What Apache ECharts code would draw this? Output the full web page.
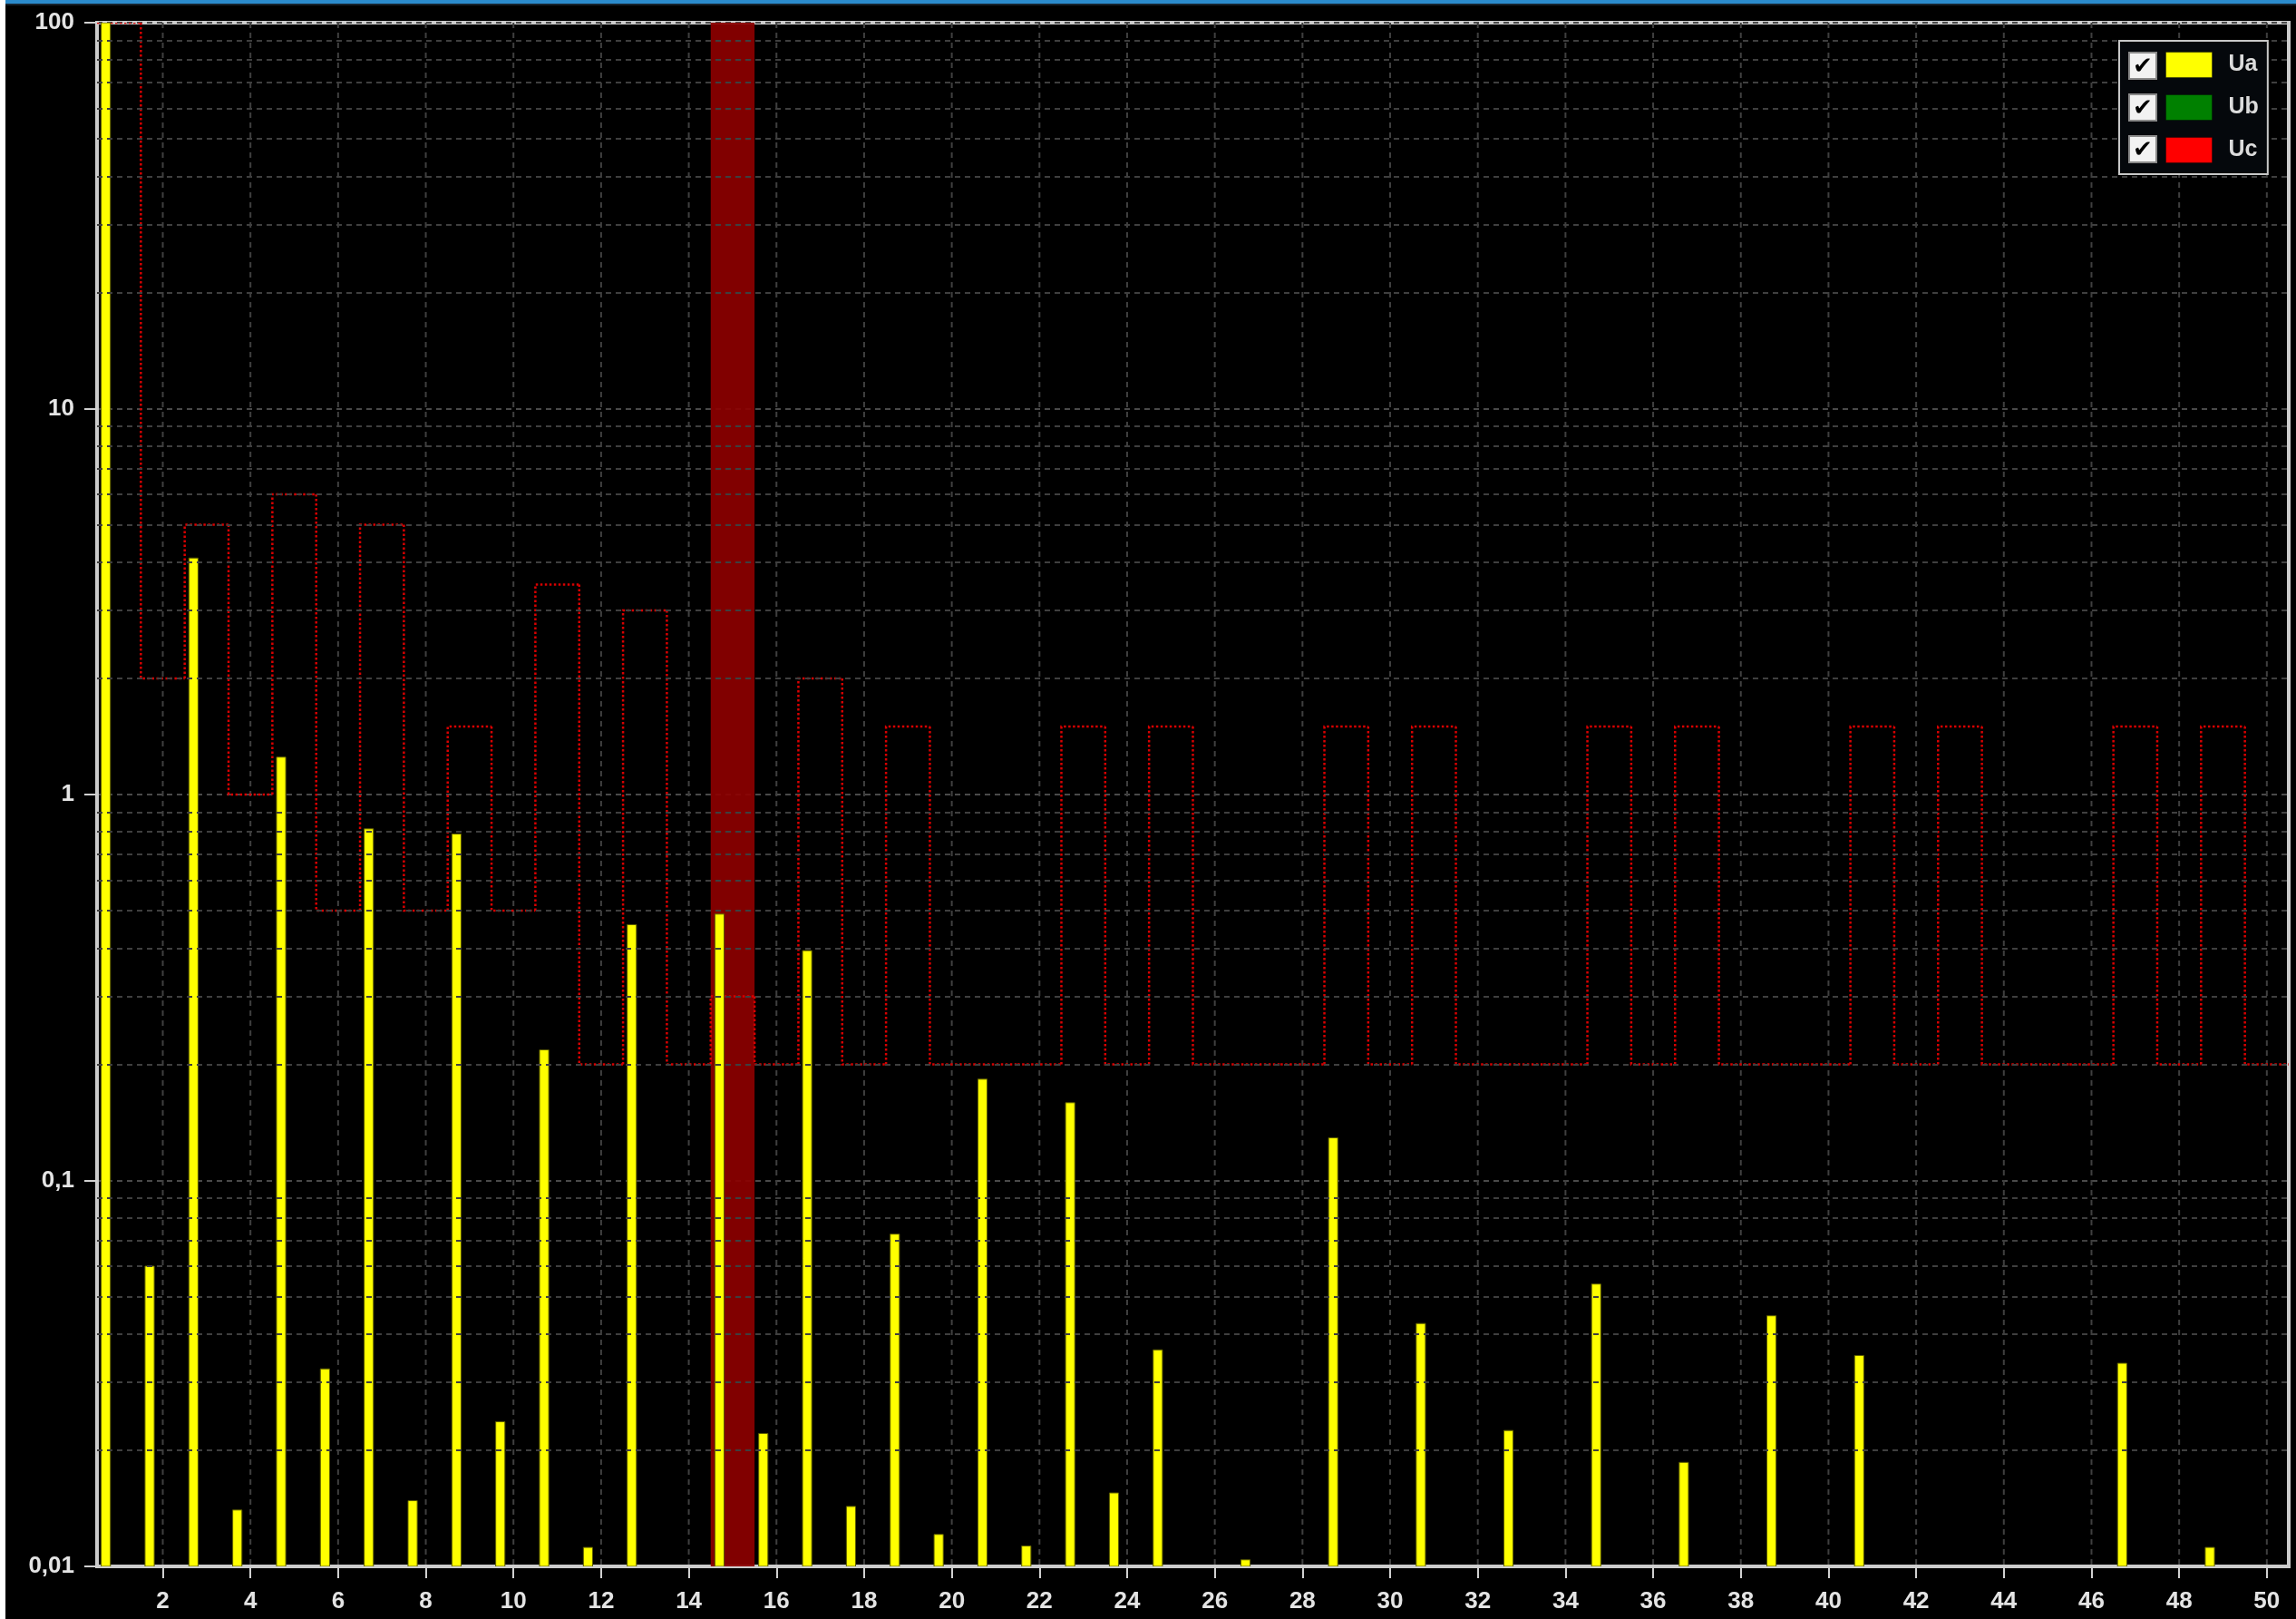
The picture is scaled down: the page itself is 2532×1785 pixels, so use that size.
<!DOCTYPE html>
<html>
<head>
<meta charset="utf-8">
<script src="https://cdn.jsdelivr.net/npm/echarts@6/dist/echarts.min.js"></script>
<style>
html,body{margin:0;padding:0;background:#000;}
#chart{width:2532px;height:1785px;}
</style>
</head>
<body>
<div id="chart"></div>
<script>
// Harmonic orders (categories)
const harmonics = ['1','2','3','4','5','6','7','8','9','10','11','12','13','14','15','16','17','18','19','20',
  '21','22','23','24','25','26','27','28','29','30','31','32','33','34','35','36','37','38','39','40',
  '41','42','43','44','45','46','47','48','49','50'];

// Ua harmonic levels (% of fundamental), null = below scale
const uaValues = [100, 0.06, 4.1, 0.014, 1.25, 0.0325, 0.815, 0.0148, 0.79, 0.0237,
  0.218, 0.0112, 0.46, null, 0.49, 0.0221, 0.394, 0.0143, 0.0726, 0.0121,
  0.183, 0.0113, 0.159, 0.0155, 0.0364, null, 0.0104, null, 0.129, null,
  0.0426, null, 0.0225, null, 0.0539, null, 0.0186, null, 0.0446, null,
  0.0352, null, null, null, null, null, 0.0336, null, 0.0112, null];
const ubValues = [];
const ucValues = [];

// Limit curve per harmonic (red dotted step line)
const limitValues = [100, 2, 5, 1, 6, 0.5, 5, 0.5, 1.5, 0.5,
  3.5, 0.2, 3, 0.2, 0.3, 0.2, 2, 0.2, 1.5, 0.2,
  0.2, 0.2, 1.5, 0.2, 1.5, 0.2, 0.2, 0.2, 1.5, 0.2,
  1.5, 0.2, 0.2, 0.2, 1.5, 0.2, 1.5, 0.2, 0.2, 0.2,
  1.5, 0.2, 1.5, 0.2, 0.2, 0.2, 1.5, 0.2, 1.5, 0.2];

// Highlighted harmonic
const highlightHarmonics = ['15'];

// Axis range / ticks
const yMin = 0.01, yMax = 100;
const yMinorDecades = [0.01, 0.1, 1, 10];
const xGridCategories = harmonics.filter((h) => Number(h) % 2 === 0);

const seriesNames = ['Ua', 'Ub', 'Uc'];
const seriesColors = ['#ffff00', '#008000', '#ff0000'];

const chart = echarts.init(document.getElementById('chart'), null, {renderer: 'canvas'});

function fmtY(v) {
  return String(Number(Number(v).toPrecision(6))).replace('.', ',');
}

function renderBar(params, api) {
  const v = api.value(1);
  if (v == null || isNaN(v)) return null;
  const top = api.coord([api.value(0), v]);
  const base = api.coord([api.value(0), yMin]);
  const w = api.size([1, 0])[0];
  return {
    type: 'rect',
    shape: {x: top[0] - 0.405 * w, y: top[1], width: 0.21 * w, height: base[1] - top[1]},
    style: {fill: api.visual('color'), stroke: '#5c5c00', lineWidth: 1}
  };
}

function renderLimit(params, api) {
  const i = params.dataIndex;
  const cur = api.coord([api.value(0), api.value(1)]);
  const w = api.size([1, 0])[0];
  const left = cur[0] - w / 2, right = cur[0] + w / 2;
  let pts;
  if (i > 0) {
    const prev = api.coord([api.value(0), limitValues[i - 1]]);
    pts = [[left, prev[1]], [left, cur[1]], [right, cur[1]]];
  } else {
    pts = [[left, cur[1]], [right, cur[1]]];
  }
  return {
    type: 'polyline',
    shape: {points: pts},
    style: {stroke: '#d80000', lineWidth: 2.5, lineDash: [2.5, 2.5], fill: null}
  };
}

function renderBand(params, api) {
  const c = api.coord([api.value(0), yMax]);
  const b = api.coord([api.value(0), yMin]);
  const w = api.size([1, 0])[0];
  return {
    type: 'rect',
    shape: {x: c[0] - w / 2, y: c[1], width: w, height: b[1] - c[1]},
    style: {fill: 'rgba(140,0,0,0.92)'}
  };
}

function renderVGrid(params, api) {
  const t = api.coord([api.value(0), yMax]);
  const b = api.coord([api.value(0), yMin]);
  return {
    type: 'line',
    shape: {x1: t[0], y1: t[1], x2: b[0], y2: b[1]},
    style: {stroke: '#3f3f3f', lineWidth: 2, lineDash: [6, 5]}
  };
}

const minorLines = [];
yMinorDecades.forEach((d) => {
  for (let k = 2; k <= 9; k++) minorLines.push({yAxis: Number((d * k).toPrecision(6))});
});

const gridLineStyle = {color: '#3f3f3f', width: 2, type: [6, 5]};

const option = {
  backgroundColor: '#000',
  animation: false,
  textStyle: {fontFamily: 'Liberation Sans, Arial, sans-serif'},
  grid: {
    left: 107, right: 8, top: 25, bottom: 58,
    show: true, borderColor: '#cccccc', borderWidth: 4, backgroundColor: '#000'
  },
  legend: {
    data: seriesNames.map((n, i) => ({name: n, icon: 'rect',
      itemStyle: {color: seriesColors[i], borderColor: 'rgba(0,0,0,0.35)', borderWidth: 1, borderType: 'solid', decal: 'none'}})),
    orient: 'vertical',
    left: 2337, top: 45,
    itemWidth: 51, itemHeight: 28, itemGap: 18,
    padding: [12, 10, 12, 51],
    backgroundColor: '#05080c',
    borderColor: '#c8c8c8', borderWidth: 2,
    z: 20,
    textStyle: {color: '#dcdcdc', fontSize: 25, fontWeight: 'bold', fontFamily: 'Liberation Sans', padding: [0, 0, 0, 13]}
  },
  xAxis: {
    type: 'category',
    data: harmonics,
    boundaryGap: true,
    axisLine: {show: true, lineStyle: {color: '#cccccc', width: 4}},
    axisTick: {show: true, alignWithLabel: true, interval: (i) => i % 2 === 1, length: 13,
      lineStyle: {color: '#d0d0d0', width: 2}},
    axisLabel: {interval: (i) => i % 2 === 1, color: '#e4e4e4', fontSize: 26, fontWeight: 'bold',
      fontFamily: 'Liberation Sans', margin: 26},
    splitLine: {show: false}
  },
  yAxis: {
    type: 'log',
    logBase: 10,
    min: yMin, max: yMax,
    axisLine: {show: true, lineStyle: {color: '#cccccc', width: 4}},
    axisTick: {show: true, length: 14, lineStyle: {color: '#d0d0d0', width: 2}},
    axisLabel: {color: '#e4e4e4', fontSize: 26, fontWeight: 'bold', fontFamily: 'Liberation Sans',
      margin: 25, formatter: fmtY},
    splitLine: {show: true, lineStyle: {color: '#4a4a4a', width: 2, type: [6, 5]}},
    minorTick: {show: false},
    minorSplitLine: {show: false}
  },
  graphic: [
    {type: 'rect', z: 100, shape: {x: 0, y: 0, width: 6, height: 1785}, style: {fill: '#ffffff'}},
    {type: 'rect', z: 100, shape: {x: 6, y: 0, width: 2526, height: 4}, style: {fill: '#2b8bcc'}},
    {type: 'rect', z: 100, shape: {x: 6, y: 4, width: 2526, height: 2}, style: {fill: '#16222c'}}
  ].concat(seriesNames.map((n, i) => ({
    type: 'rect', z: 100, x: 2348, y: 58 + i * 46,
    shape: {x: 0, y: 0, width: 30, height: 29},
    style: {fill: '#f2f2f2', stroke: '#8a8a8a', lineWidth: 2}
  }))).concat(seriesNames.map((n, i) => ({
    type: 'text', z: 101, x: 2363, y: 74 + i * 46,
    style: {text: '\u2714', fontSize: 26, fontFamily: 'DejaVu Sans', fill: '#000',
      align: 'center', verticalAlign: 'middle'}
  }))),
  series: [
    {
      name: 'grid-helper', type: 'line', data: [], silent: true, z: 1,
      markLine: {silent: true, symbol: 'none', label: {show: false}, animation: false,
        lineStyle: gridLineStyle, data: minorLines}
    },
    {
      name: 'vgrid', type: 'custom', silent: true, z: 1, clip: true,
      renderItem: renderVGrid,
      data: xGridCategories.map((c) => [harmonics.indexOf(c), yMax])
    },
    {
      name: 'highlight', type: 'custom', silent: true, z: 2, clip: true,
      renderItem: renderBand,
      data: highlightHarmonics.map((h) => [harmonics.indexOf(h), yMax])
    },
    {
      name: 'limit', type: 'custom', silent: true, z: 3, clip: true,
      renderItem: renderLimit,
      encode: {x: 0, y: 1},
      data: limitValues.map((v, i) => [i, v])
    },
    {
      name: 'Ua', type: 'custom', z: 4, clip: true,
      itemStyle: {color: seriesColors[0]},
      renderItem: renderBar, encode: {x: 0, y: 1},
      data: uaValues.map((v, i) => [i, v])
    },
    {
      name: 'Ub', type: 'custom', z: 4, clip: true,
      itemStyle: {color: seriesColors[1]},
      renderItem: renderBar, encode: {x: 0, y: 1},
      data: ubValues.map((v, i) => [i, v])
    },
    {
      name: 'Uc', type: 'custom', z: 4, clip: true,
      itemStyle: {color: seriesColors[2]},
      renderItem: renderBar, encode: {x: 0, y: 1},
      data: ucValues.map((v, i) => [i, v])
    }
  ]
};
chart.setOption(option);
</script>
</body>
</html>
